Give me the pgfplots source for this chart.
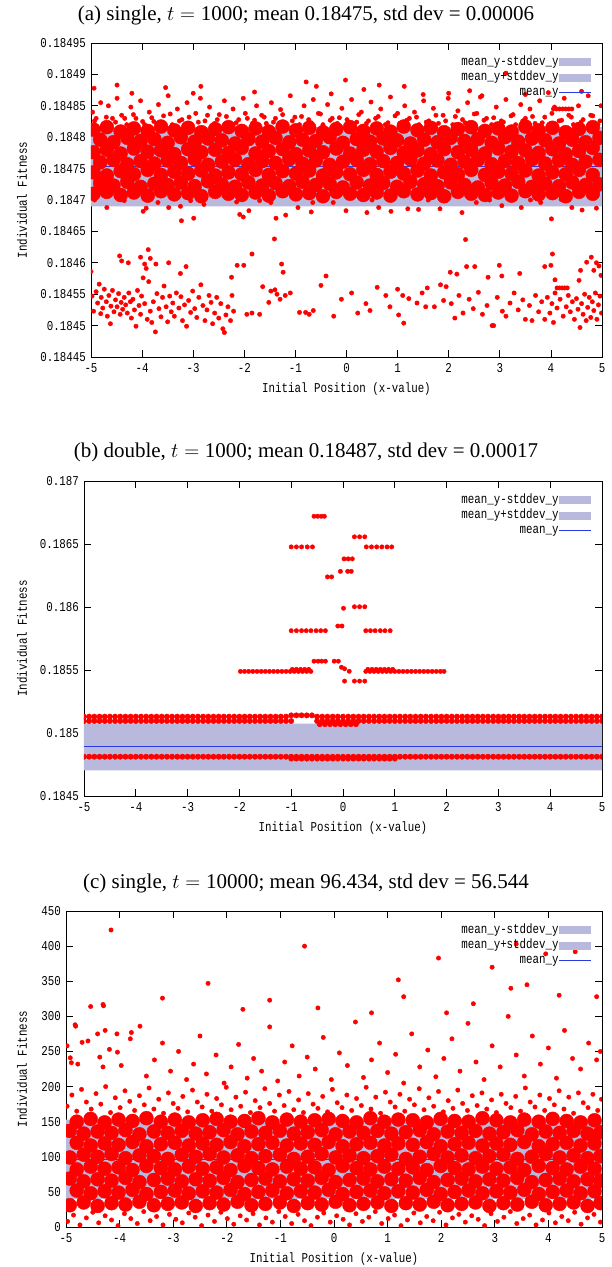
\documentclass[border=0pt]{standalone}
\usepackage{fontspec}
\setmainfont{Liberation Serif}
\newfontfamily\gp[FakeStretch=0.8]{Liberation Mono}
\newcommand\gpf{\gp\fontsize{13.5}{15}\selectfont}
\usepackage{pgfplots}
\usepackage{pgfplotstable}
\pgfplotsset{compat=1.18}
\definecolor{lav}{RGB}{185,185,222}
\definecolor{mblue}{RGB}{40,60,225}

\pgfplotsset{
 gp/.style={scale only axis, xmin=-5, xmax=5, xtick={-5,-4,...,5}, xticklabels={-5,-4,-3,-2,-1,0,1,2,3,4,5},
  axis line style={line width=0.9pt}, tick style={black, line width=0.8pt}, major tick length=7pt,
  tick label style={font=\gpf},
  xticklabel style={anchor=north, inner sep=0pt, yshift=-6pt},
  yticklabel style={anchor=east, inner sep=0pt, xshift=-5pt},
  clip marker paths=true,
  legend plot pos=right, legend cell align=right,
  legend style={draw=none, fill=none, font=\gpf, inner sep=0pt, at={(1,1)}, anchor=north east, xshift=-10pt, yshift=-13pt, row sep=3.3pt, nodes={inner sep=0pt, text height=9pt, text depth=3pt}, /tikz/every even column/.append style={column sep=5pt}},
  xlabel={Initial Position (x-value)}, ylabel={Individual Fitness},
  every axis x label/.style={at={(axis description cs:0.5,0)}, anchor=center, yshift=-32pt, font=\gpf},
 },
 pts/.style={only marks, mark=*, mark size=2.2pt, color=red, mark options={draw=none, fill=red}, forget plot},
 core/.style={pts, mark size=7pt},
 cbig/.style={pts, mark size=7pt},
 bpts/.style={pts, mark size=2.7pt},
 bandA/.style={fill=lav, draw=none, legend image code/.code={\fill[lav] (0pt,-4pt) rectangle (32pt,4pt);}},
 meanL/.style={mblue, line width=1pt, legend image code/.code={\draw[mblue, line width=1.2pt] (0pt,0pt) -- (32pt,0pt);}},
}

\pgfplotstableread{
xa r1 r3 r5 r7 xb r2 r4 r6
-4.95 0.184812 0.184776 0.184744 0.18471 -4.82 0.184796 0.18476 0.184727
-4.69 0.184816 0.18478 0.184739 0.184713 -4.56 0.184792 0.184764 0.184723
-4.42 0.184809 0.184774 0.184746 0.184708 -4.29 0.184799 0.184757 0.184729
-4.16 0.184814 0.184782 0.184741 0.184712 -4.03 0.184794 0.184762 0.184721
-3.89 0.18481 0.184777 0.184748 0.184707 -3.76 0.184797 0.184758 0.184726
-3.63 0.184817 0.184779 0.18474 0.184714 -3.5 0.184791 0.184763 0.184724
-3.37 0.184811 0.184773 0.184745 0.184709 -3.24 0.1848 0.184759 0.184728
-3.1 0.184815 0.184781 0.184742 0.184711 -2.97 0.184793 0.184765 0.184722
-2.84 0.184808 0.184776 0.184747 0.184706 -2.71 0.184798 0.184756 0.18473
-2.57 0.184813 0.18478 0.184739 0.184713 -2.44 0.184795 0.184761 0.184725
-2.31 0.184816 0.184775 0.184744 0.18471 -2.18 0.18479 0.184764 0.184721
-2.05 0.18481 0.184783 0.184741 0.184708 -1.92 0.184797 0.184757 0.184728
-1.78 0.184814 0.184774 0.184748 0.184712 -1.65 0.184793 0.184762 0.184723
-1.52 0.184809 0.184778 0.18474 0.184707 -1.39 0.184799 0.184759 0.184727
-1.25 0.184817 0.184781 0.184746 0.184714 -1.12 0.184792 0.184765 0.184722
-0.99 0.184811 0.184773 0.184742 0.184709 -0.86 0.184796 0.184758 0.184729
-0.73 0.184815 0.184779 0.184747 0.184711 -0.6 0.184794 0.184763 0.184724
-0.46 0.184808 0.184776 0.184739 0.184706 -0.33 0.1848 0.184756 0.184726
-0.2 0.184813 0.184782 0.184744 0.184713 -0.07 0.184791 0.184761 0.18472
0.07 0.184816 0.184774 0.184741 0.18471 0.2 0.184797 0.184764 0.184728
0.33 0.18481 0.18478 0.184748 0.184708 0.46 0.184793 0.184757 0.184723
0.59 0.184814 0.184777 0.18474 0.184712 0.72 0.184798 0.184762 0.184727
0.86 0.184809 0.184783 0.184745 0.184707 0.99 0.184795 0.184759 0.184721
1.12 0.184817 0.184775 0.184742 0.184714 1.25 0.18479 0.184765 0.184729
1.39 0.184811 0.184779 0.184747 0.184709 1.52 0.184796 0.184758 0.184725
1.65 0.184815 0.184773 0.184739 0.184711 1.78 0.184792 0.184763 0.184722
1.91 0.184808 0.184781 0.184744 0.184706 2.04 0.184799 0.184756 0.184728
2.18 0.184813 0.184776 0.184741 0.184713 2.31 0.184794 0.184761 0.184724
2.44 0.184816 0.18478 0.184748 0.18471 2.57 0.184797 0.184764 0.18472
2.71 0.18481 0.184774 0.18474 0.184708 2.84 0.184791 0.184757 0.184727
2.97 0.184814 0.184782 0.184745 0.184712 3.1 0.1848 0.184762 0.184723
3.23 0.184809 0.184777 0.184742 0.184707 3.36 0.184793 0.184759 0.184729
3.5 0.184817 0.184779 0.184747 0.184714 3.63 0.184798 0.184765 0.184721
3.76 0.184811 0.184775 0.184739 0.184709 3.89 0.184795 0.184758 0.184726
4.03 0.184815 0.184781 0.184744 0.184711 4.16 0.18479 0.184763 0.184722
4.29 0.184808 0.184773 0.184741 0.184706 4.42 0.184796 0.184756 0.184728
4.55 0.184813 0.184778 0.184748 0.184713 4.68 0.184792 0.184761 0.184724
4.82 0.184816 0.184783 0.18474 0.18471 4.95 0.184799 0.184764 0.184725
}\tabAcore

\pgfplotstableread{
xa r1 r3 r5 r7 xb r2 r4 r6 r8
-4.93 31 69 99 137 -4.8 52 82 120 150
-4.67 35 65 103 133 -4.54 48 86 116 154
-4.41 30 68 100 136 -4.28 51 83 119 149
-4.15 34 66 104 134 -4.02 49 85 117 153
-3.89 32 70 98 138 -3.76 53 81 121 151
-3.63 36 64 102 132 -3.5 47 87 115 155
-3.36 31 67 101 136 -3.23 50 84 118 150
-3.1 33 69 97 134 -2.97 52 82 120 153
-2.84 35 65 103 137 -2.71 48 86 116 149
-2.58 30 68 100 133 -2.45 51 83 119 152
-2.32 34 66 104 135 -2.19 49 85 117 154
-2.06 32 70 99 138 -1.93 53 81 121 150
-1.8 36 64 102 132 -1.67 47 87 115 151
-1.54 31 67 98 136 -1.41 50 84 118 155
-1.28 33 69 101 134 -1.15 52 82 120 149
-1.01 35 65 103 137 -0.88 48 86 116 153
-0.75 30 68 97 133 -0.62 51 83 119 150
-0.49 34 66 100 135 -0.36 49 85 117 152
-0.23 32 70 104 138 -0.1 53 81 121 154
0.03 36 64 99 132 0.16 47 87 115 151
0.29 31 67 102 136 0.42 50 84 118 149
0.55 33 69 98 134 0.68 52 82 120 155
0.81 35 65 101 137 0.94 48 86 116 150
1.07 30 68 103 133 1.2 51 83 119 153
1.34 34 66 97 135 1.47 49 85 117 152
1.6 32 70 100 138 1.73 53 81 121 149
1.86 36 64 104 132 1.99 47 87 115 154
2.12 31 67 99 136 2.25 50 84 118 151
2.38 33 69 102 134 2.51 52 82 120 150
2.64 35 65 98 137 2.77 48 86 116 155
2.9 30 68 101 133 3.03 51 83 119 152
3.16 34 66 103 135 3.29 49 85 117 149
3.42 32 70 97 138 3.55 53 81 121 153
3.69 36 64 100 132 3.82 47 87 115 150
3.95 31 67 104 136 4.08 50 84 118 154
4.21 33 69 99 134 4.34 52 82 120 151
4.47 35 65 102 137 4.6 48 86 116 149
4.73 30 68 98 133 4.86 51 83 119 152
4.97 34 66 101 135 nan nan nan nan nan
}\tabCcore

\pgfplotstableread{
x u1 u2 lo
-5 0.18513 0.185095 0.184812
-4.9 0.18513 0.185095 0.184812
-4.8 0.18513 0.185095 0.184812
-4.7 0.18513 0.185095 0.184812
-4.6 0.18513 0.185095 0.184812
-4.5 0.18513 0.185095 0.184812
-4.4 0.18513 0.185095 0.184812
-4.3 0.18513 0.185095 0.184812
-4.2 0.18513 0.185095 0.184812
-4.1 0.18513 0.185095 0.184812
-4 0.18513 0.185095 0.184812
-3.9 0.18513 0.185095 0.184812
-3.8 0.18513 0.185095 0.184812
-3.7 0.18513 0.185095 0.184812
-3.6 0.18513 0.185095 0.184812
-3.5 0.18513 0.185095 0.184812
-3.4 0.18513 0.185095 0.184812
-3.3 0.18513 0.185095 0.184812
-3.2 0.18513 0.185095 0.184812
-3.1 0.18513 0.185095 0.184812
-3 0.18513 0.185095 0.184812
-2.9 0.18513 0.185095 0.184812
-2.8 0.18513 0.185095 0.184812
-2.7 0.18513 0.185095 0.184812
-2.6 0.18513 0.185095 0.184812
-2.5 0.18513 0.185095 0.184812
-2.4 0.18513 0.185095 0.184812
-2.3 0.18513 0.185095 0.184812
-2.2 0.18513 0.185095 0.184812
-2.1 0.18513 0.185095 0.184812
-2 0.18513 0.185095 0.184812
-1.9 0.18513 0.185095 0.184812
-1.8 0.18513 0.185095 0.184812
-1.7 0.18513 0.185095 0.184812
-1.6 0.18513 0.185095 0.184812
-1.5 0.18513 0.185095 0.184812
-1.4 0.18513 0.185095 0.184812
-1.3 0.18513 0.185095 0.184812
-1.2 0.18513 0.185095 0.184812
-1.1 0.18513 0.185095 0.184812
-1 0.18514 0.185095 0.184812
-0.9 0.18514 nan 0.184812
-0.8 0.18514 nan 0.184812
-0.7 0.18514 nan 0.184812
-0.6 0.18514 nan 0.184812
-0.5 0.18513 0.185095 0.184812
-0.4 0.18513 0.185095 0.184812
-0.3 0.18513 0.185095 0.184812
-0.2 0.18513 0.185095 0.184812
-0.1 0.18513 0.185095 0.184812
0 0.18513 0.185095 0.184812
0.1 0.18513 0.185095 0.184812
0.2 0.18513 0.185095 0.184812
0.3 0.18513 0.185095 0.184812
0.4 0.18513 0.185095 0.184812
0.5 0.18513 0.185095 0.184812
0.6 0.18513 0.185095 0.184812
0.7 0.18513 0.185095 0.184812
0.8 0.18513 0.185095 0.184812
0.9 0.18513 0.185095 0.184812
1 0.18513 0.185095 0.184812
1.1 0.18513 0.185095 0.184812
1.2 0.18513 0.185095 0.184812
1.3 0.18513 0.185095 0.184812
1.4 0.18513 0.185095 0.184812
1.5 0.18513 0.185095 0.184812
1.6 0.18513 0.185095 0.184812
1.7 0.18513 0.185095 0.184812
1.8 0.18513 0.185095 0.184812
1.9 0.18513 0.185095 0.184812
2 0.18513 0.185095 0.184812
2.1 0.18513 0.185095 0.184812
2.2 0.18513 0.185095 0.184812
2.3 0.18513 0.185095 0.184812
2.4 0.18513 0.185095 0.184812
2.5 0.18513 0.185095 0.184812
2.6 0.18513 0.185095 0.184812
2.7 0.18513 0.185095 0.184812
2.8 0.18513 0.185095 0.184812
2.9 0.18513 0.185095 0.184812
3 0.18513 0.185095 0.184812
3.1 0.18513 0.185095 0.184812
3.2 0.18513 0.185095 0.184812
3.3 0.18513 0.185095 0.184812
3.4 0.18513 0.185095 0.184812
3.5 0.18513 0.185095 0.184812
3.6 0.18513 0.185095 0.184812
3.7 0.18513 0.185095 0.184812
3.8 0.18513 0.185095 0.184812
3.9 0.18513 0.185095 0.184812
4 0.18513 0.185095 0.184812
4.1 0.18513 0.185095 0.184812
4.2 0.18513 0.185095 0.184812
4.3 0.18513 0.185095 0.184812
4.4 0.18513 0.185095 0.184812
4.5 0.18513 0.185095 0.184812
4.6 0.18513 0.185095 0.184812
4.7 0.18513 0.185095 0.184812
4.8 0.18513 0.185095 0.184812
4.9 0.18513 0.185095 0.184812
5 0.18513 0.185095 0.184812
}\tabB

\begin{document}
\begin{tikzpicture}
\useasboundingbox (0,0) rectangle (611pt,-1267pt);

% ---------------- (a) ----------------
\begin{axis}[gp, at={(91pt,-357pt)}, anchor=south west, width=511pt, height=314pt,
  ymin=0.18445, ymax=0.18495,
  ytick={0.18445,0.1845,0.18455,0.1846,0.18465,0.1847,0.18475,0.1848,0.18485,0.1849,0.18495},
  yticklabels={0.18445,0.1845,0.18455,0.1846,0.18465,0.1847,0.18475,0.1848,0.18485,0.1849,0.18495},
  every axis y label/.style={at={(axis description cs:-0.135,0.5)}, rotate=90, anchor=center, font=\gpf}]
\addplot[bandA] coordinates {(-5,0.18469) (5,0.18469) (5,0.184753) (-5,0.184753) (-5,0.18469)};
\addlegendentry{mean\_y-stddev\_y}
\addplot[bandA] coordinates {(-5,0.184753) (5,0.184753) (5,0.184816) (-5,0.184816) (-5,0.184753)};
\addlegendentry{mean\_y+stddev\_y}
\addplot[meanL] coordinates {(-5,0.184753) (5,0.184753)};
\addlegendentry{mean\_y}
\addplot[core] table[x=xa,y=r1]{\tabAcore};
\addplot[core] table[x=xa,y=r3]{\tabAcore};
\addplot[core] table[x=xa,y=r5]{\tabAcore};
\addplot[core] table[x=xa,y=r7]{\tabAcore};
\addplot[core] table[x=xb,y=r2]{\tabAcore};
\addplot[core] table[x=xb,y=r4]{\tabAcore};
\addplot[core] table[x=xb,y=r6]{\tabAcore};
% fringe above the dense band
\addplot[pts] coordinates {(-4.97,0.18484) (-4.9,0.18483) (-4.81,0.184855) (-4.74,0.18482) (-4.66,0.18485) (-4.58,0.18483) (-4.49,0.184862) (-4.4,0.184835) (-4.3,0.18482) (-4.22,0.184848) (-4.12,0.18483) (-4.03,0.184858) (-3.95,0.18482) (-3.86,0.18484) (-3.77,0.184825) (-3.68,0.184852) (-3.58,0.184834) (-3.49,0.184866) (-3.41,0.18482) (-3.31,0.184845) (-3.22,0.184828) (-3.12,0.184855) (-3.03,0.18482) (-2.95,0.184838) (-2.86,0.184862) (-2.77,0.184826) (-2.68,0.184848) (-2.58,0.184822) (-2.49,0.184836) (-2.39,0.184858) (-2.3,0.18482) (-2.22,0.184845) (-2.11,0.184828) (-2.02,0.184862) (-1.94,0.18483) (-1.84,0.184822) (-1.76,0.18485) (-1.66,0.184835) (-1.57,0.184822) (-1.47,0.184855) (-1.39,0.18483) (-1.29,0.184844) (-1.2,0.184822) (-1.1,0.184866) (-1.01,0.184832) (-0.92,0.18482) (-0.83,0.18485) (-0.74,0.184828) (-0.65,0.18486) (-0.55,0.184838) (-0.46,0.18482) (-0.37,0.184852) (-0.28,0.18483) (-0.18,0.184822) (-0.09,0.184846) (0.01,0.184828) (0.1,0.18486) (0.2,0.184824) (0.29,0.18484) (0.39,0.184822) (0.48,0.184856) (0.57,0.18483) (0.67,0.184845) (0.76,0.18482) (0.86,0.184864) (0.95,0.184834) (1.04,0.184822) (1.14,0.18485) (1.23,0.18483) (1.33,0.18484) (1.42,0.18482) (1.51,0.184858) (1.61,0.184826) (1.7,0.184846) (1.8,0.184822) (1.89,0.184835) (1.99,0.184862) (2.08,0.18482) (2.18,0.184842) (2.27,0.184828) (2.37,0.184855) (2.46,0.184822) (2.55,0.184838) (2.65,0.184866) (2.74,0.18483) (2.84,0.18482) (2.93,0.184848) (3.03,0.184826) (3.12,0.18486) (3.22,0.184834) (3.31,0.18482) (3.41,0.184852) (3.5,0.18483) (3.59,0.184845) (3.69,0.184822) (3.78,0.184858) (3.88,0.184832) (3.97,0.18482) (4.07,0.184848) (4.16,0.184826) (4.26,0.184862) (4.35,0.184835) (4.44,0.18482) (4.54,0.18485) (4.63,0.184828) (4.73,0.184866) (4.82,0.184834) (4.92,0.18482) (4.98,0.18485)
 (-4.93,0.184826) (-4.7,0.184832) (-4.52,0.184824) (-4.34,0.18483) (-4.17,0.184836) (-3.99,0.184825) (-3.81,0.184831) (-3.63,0.184823) (-3.45,0.184837) (-3.27,0.184826) (-3.08,0.184832) (-2.9,0.184824) (-2.72,0.184835) (-2.53,0.184828) (-2.35,0.184833) (-2.16,0.184823) (-1.98,0.184838) (-1.8,0.184827) (-1.61,0.184832) (-1.43,0.184824) (-1.25,0.184836) (-1.06,0.184826) (-0.88,0.184833) (-0.69,0.184823) (-0.51,0.184837) (-0.32,0.184827) (-0.14,0.184831) (0.05,0.184824) (0.24,0.184836) (0.43,0.184826) (0.62,0.184833) (0.81,0.184823) (1.0,0.184838) (1.18,0.184827) (1.37,0.184832) (1.56,0.184824) (1.75,0.184835) (1.94,0.184826) (2.13,0.184833) (2.32,0.184823) (2.5,0.184837) (2.69,0.184827) (2.88,0.184831) (3.07,0.184824) (3.26,0.184836) (3.45,0.184826) (3.64,0.184833) (3.83,0.184823) (4.02,0.184838) (4.21,0.184827) (4.4,0.184832) (4.59,0.184824) (4.78,0.184835) (4.96,0.184826)
 (-4.94,0.184878) (-4.49,0.184883) (-3.54,0.184879) (-2.85,0.184881) (-0.79,0.184888) (-0.59,0.184881) (-0.02,0.184891) (0.64,0.184883) (1.13,0.184881) (2.41,0.184874) (3.12,0.184902) (3.95,0.184871) (0.34,0.184876) (2.62,0.184864)
 (-4.2,0.18487) (-3.0,0.18487) (-1.8,0.184872) (1.5,0.184868) (2.0,0.18487) (4.6,0.184873) (-0.3,0.184869) (3.5,0.184868)
 (4.05,0.184845) (4.11,0.184845) (4.17,0.184845) (4.23,0.184845) (4.29,0.184845) (4.35,0.184845) (4.41,0.184845)};
% fringe below the dense band
\addplot[pts] coordinates {(-4.69,0.184688) (-3.98,0.184682) (-3.92,0.184687) (-3.69,0.184696) (-3.48,0.184688) (-3.25,0.18469) (-3.23,0.184667) (-2.99,0.184671) (-2.79,0.184693) (-2.15,0.184697) (-2.09,0.184677) (-2.02,0.184673) (-1.91,0.184683) (-1.48,0.184696) (-1.38,0.184671) (-1.19,0.184676) (-0.95,0.184688) (-0.69,0.184681) (-0.66,0.184696) (-0.26,0.184696) (-0.01,0.184683) (0.4,0.18468) (0.63,0.184688) (0.87,0.184682) (1.2,0.184686) (1.41,0.184685) (1.83,0.184686) (2.26,0.18468) (2.54,0.184696) (3.04,0.184691) (3.42,0.184688) (3.8,0.184696) (4.01,0.18467) (4.41,0.184688) (4.61,0.184684) (4.89,0.184687)
 (-4.93,0.1847) (-4.35,0.184699) (-3.05,0.184699) (-1.7,0.184699) (-0.45,0.184701) (0.5,0.1847) (1.6,0.1847) (2.8,0.1847) (3.6,0.1847) (4.2,0.184701)};
% lower cluster
\addplot[pts] coordinates {(-1.41,0.184638) (2.33,0.184637) (-5.0,0.184586) (-4.44,0.184611) (-4.4,0.184603) (-4.27,0.1846) (-4.03,0.184609) (-3.88,0.184621) (-3.84,0.184607) (-3.95,0.184598) (-3.92,0.184591) (-3.73,0.184598) (-3.48,0.1846) (-3.14,0.184594) (-3.25,0.184583) (-1.85,0.184614) (-2.14,0.184596) (-2.01,0.184596) (-2.25,0.184577) (-1.27,0.184598) (-1.24,0.184585) (-1.64,0.184562) (-0.4,0.184579) (2.03,0.184585) (2.16,0.184582) (2.35,0.184594) (2.51,0.184594) (2.77,0.184577) (2.99,0.184596) (3.04,0.184579) (3.39,0.184583) (3.88,0.184594) (4.0,0.184596) (4.03,0.184614) (4.08,0.184573) (4.58,0.184588) (4.7,0.184601) (4.79,0.184609) (4.89,0.1846) (4.94,0.184595) (4.98,0.18458) (4.84,0.184588) (4.55,0.184572)
 (-4.98,0.184547) (-4.95,0.184523) (-4.9,0.184554) (-4.87,0.184536) (-4.84,0.184566) (-4.81,0.184519) (-4.8,0.184545) (-4.77,0.184528) (-4.74,0.184558) (-4.7,0.184538) (-4.68,0.184515) (-4.65,0.184548) (-4.62,0.184503) (-4.61,0.184531) (-4.58,0.184556) (-4.55,0.184522) (-4.52,0.184541) (-4.49,0.18453) (-4.46,0.184551) (-4.43,0.184518) (-4.41,0.184537) (-4.38,0.184526) (-4.35,0.184545) (-4.32,0.184533) (-4.29,0.18452) (-4.26,0.184552) (-4.23,0.184538) (-4.21,0.184512) (-4.18,0.184542) (-4.15,0.184525) (-4.12,0.184499) (-4.09,0.184556) (-4.06,0.184532) (-4.03,0.184518) (-4.01,0.184547) (-3.98,0.184576) (-3.95,0.184535) (-3.9,0.18451) (-3.87,0.18457) (-3.84,0.184523) (-3.81,0.184505) (-3.78,0.184538) (-3.74,0.18449) (-3.71,0.184551) (-3.67,0.184527) (-3.63,0.184514) (-3.6,0.184545) (-3.57,0.184563) (-3.53,0.18453) (-3.5,0.184506) (-3.46,0.184547) (-3.43,0.184522) (-3.4,0.184536) (-3.37,0.184515) (-3.33,0.184552) (-3.28,0.184528) (-3.24,0.184546) (-3.21,0.184508) (-3.17,0.184533) (-3.13,0.184499) (-3.09,0.18454) (-3.05,0.184521) (-3.01,0.184555) (-2.97,0.184527) (-2.93,0.184513) (-2.89,0.184545) (-2.85,0.184565) (-2.81,0.184532) (-2.77,0.184508) (-2.73,0.184525) (-2.69,0.184548) (-2.65,0.184537) (-2.62,0.184503) (-2.58,0.18452) (-2.54,0.184545) (-2.5,0.184512) (-2.46,0.184535) (-2.42,0.184495) (-2.39,0.184489) (-2.36,0.184517) (-2.32,0.18453) (-2.27,0.184508) (-2.24,0.184548) (-2.21,0.184523)
 (-1.95,0.184518) (-1.85,0.18452) (-1.7,0.184518) (-1.52,0.184537) (-1.48,0.184555) (-1.4,0.184557) (-1.36,0.18455) (-1.3,0.184542) (-1.2,0.184548) (-1.1,0.184552) (-0.92,0.184521) (-0.8,0.184521) (-0.73,0.184518) (-0.65,0.184524) (-0.5,0.184564) (-0.25,0.184515) (-0.1,0.184542) (0.1,0.184552) (0.22,0.18452) (0.38,0.184535) (0.46,0.184524) (0.6,0.184561) (0.77,0.184548) (0.85,0.18453) (1.0,0.184558) (1.02,0.184517) (1.12,0.184504) (1.1,0.184548) (1.22,0.184543) (1.38,0.184536) (1.48,0.184552) (1.55,0.18453) (1.58,0.18456) (1.72,0.18453) (1.84,0.184565) (1.9,0.18454) (1.95,0.184562)
 (2.05,0.184535) (2.12,0.184512) (2.2,0.184548) (2.28,0.18452) (2.4,0.184542) (2.48,0.184527) (2.58,0.184553) (2.66,0.184518) (2.75,0.184532) (2.85,0.1845) (2.88,0.1845) (2.95,0.184545) (3.05,0.184523) (3.12,0.184515) (3.2,0.184536) (3.28,0.184552) (3.36,0.184525) (3.45,0.184541) (3.5,0.18451)
 (3.58,0.184532) (3.63,0.184508) (3.7,0.184548) (3.76,0.184522) (3.82,0.184538) (3.88,0.18451) (3.93,0.184545) (3.98,0.18452) (4.02,0.184535) (4.05,0.184505) (4.08,0.184552) (4.12,0.184528) (4.18,0.184542) (4.24,0.184515) (4.3,0.18453) (4.34,0.184548) (4.38,0.184522) (4.42,0.184538) (4.46,0.18451) (4.5,0.184543) (4.53,0.184526) (4.57,0.184497) (4.6,0.184535) (4.63,0.184518) (4.66,0.18455) (4.69,0.184508) (4.72,0.184529) (4.75,0.184545) (4.78,0.184513) (4.81,0.184538) (4.84,0.184524) (4.87,0.184552) (4.9,0.18451) (4.93,0.184533) (4.96,0.184547) (4.99,0.18452)
 (4.12,0.18456) (4.17,0.18456) (4.22,0.18456) (4.27,0.18456) (4.32,0.18456)};
\end{axis}

% ---------------- (b) ----------------
\begin{axis}[gp, at={(84pt,-796pt)}, anchor=south west, width=518pt, height=315pt,
  ymin=0.1845, ymax=0.187,
  ytick={0.1845,0.185,0.1855,0.186,0.1865,0.187},
  yticklabels={0.1845,0.185,0.1855,0.186,0.1865,0.187},
  every axis y label/.style={at={(axis description cs:-0.1197,0.5)}, rotate=90, anchor=center, font=\gpf}]
\addplot[bandA] coordinates {(-5,0.184703) (5,0.184703) (5,0.184889) (-5,0.184889) (-5,0.184703)};
\addlegendentry{mean\_y-stddev\_y}
\addplot[bandA] coordinates {(-5,0.184889) (5,0.184889) (5,0.185075) (-5,0.185075) (-5,0.184889)};
\addlegendentry{mean\_y+stddev\_y}
\addplot[meanL] coordinates {(-5,0.184889) (5,0.184889)};
\addlegendentry{mean\_y}
\addplot[bpts] table[x=x,y=u1]{\tabB};
\addplot[bpts] table[x=x,y=u2]{\tabB};
\addplot[bpts] table[x=x,y=lo]{\tabB};
\addplot[bpts] coordinates {(-1,0.184797) (-0.9,0.184797) (-0.8,0.184797) (-0.7,0.184797) (-0.6,0.184797) (-0.5,0.184797) (-0.4,0.184797) (-0.3,0.184797) (-0.2,0.184797) (-0.1,0.184797) (0,0.184797) (0.1,0.184797) (0.2,0.184797) (0.3,0.184797) (0.4,0.184797) (0.5,0.184797) (0.6,0.184797) (0.7,0.184797) (0.8,0.184797) (0.9,0.184797) (1,0.184797)
 (-0.45,0.18507) (-0.35,0.18507) (-0.25,0.18507) (-0.15,0.18507) (-0.05,0.18507) (0.05,0.18507) (0.15,0.18507) (0.25,0.18507)};
\addplot[pts] coordinates {(-1.98,0.185489) (-1.9,0.185489) (-1.82,0.185489) (-1.74,0.185489) (-1.66,0.185489) (-1.58,0.185489) (-1.5,0.185489) (-1.42,0.185489) (-1.34,0.185489) (-1.26,0.185489) (-1.18,0.185489) (-1.1,0.185489) (-1.02,0.185489) (-0.94,0.185489) (-0.86,0.185489) (-0.78,0.185489) (-0.7,0.185489) (-0.62,0.185489)
 (0.44,0.185489) (0.52,0.185489) (0.6,0.185489) (0.68,0.185489) (0.76,0.185489) (0.84,0.185489) (0.92,0.185489) (1.0,0.185489) (1.08,0.185489) (1.16,0.185489) (1.24,0.185489) (1.32,0.185489) (1.4,0.185489) (1.48,0.185489) (1.56,0.185489) (1.64,0.185489) (1.72,0.185489) (1.8,0.185489) (1.88,0.185489) (1.95,0.185489)
 (-0.98,0.185505) (-0.9,0.185505) (-0.82,0.185505) (-0.74,0.185505) (-0.66,0.185505) (0.48,0.185505) (0.56,0.185505) (0.64,0.185505) (0.72,0.185505) (0.8,0.185505) (0.88,0.185505) (0.96,0.185505)
 (-0.56,0.18672) (-0.49,0.18672) (-0.42,0.18672) (-0.36,0.18672)
 (0.22,0.186557) (0.32,0.186557) (0.42,0.186557)
 (-1.0,0.186477) (-0.9,0.186477) (-0.8,0.186477) (-0.69,0.186477) (-0.59,0.186477) (0.45,0.186477) (0.55,0.186477) (0.65,0.186477) (0.75,0.186477) (0.85,0.186477) (0.94,0.186477)
 (0.02,0.186382) (0.1,0.186382) (0.18,0.186382)
 (-0.05,0.186283) (0.09,0.186283) (0.16,0.186283)
 (-0.3,0.186239) (-0.22,0.186239)
 (0.22,0.186002) (0.32,0.186002) (0.42,0.186002) (0.01,0.18599)
 (-0.1,0.185849) (-0.02,0.185849)
 (-1.0,0.185812) (-0.9,0.185812) (-0.8,0.185812) (-0.71,0.185812) (-0.62,0.185812) (-0.52,0.185812) (-0.43,0.185812) (-0.34,0.185812) (0.44,0.185812) (0.53,0.185812) (0.62,0.185812) (0.72,0.185812) (0.81,0.185812) (0.91,0.185812)
 (-0.56,0.18557) (-0.48,0.18557) (-0.41,0.18557) (-0.34,0.18557) (-0.17,0.18557) (-0.09,0.18557)
 (-0.03,0.185522) (0.03,0.18551) (0.12,0.18549)
 (0.03,0.185412) (0.22,0.185412) (0.32,0.185412) (0.42,0.185412)};
\end{axis}

% ---------------- (c) ----------------
\begin{axis}[gp, at={(66pt,-1227pt)}, anchor=south west, width=536pt, height=316pt,
  ymin=0, ymax=450,
  ytick={0,50,100,150,200,250,300,350,400,450},
  yticklabels={0,50,100,150,200,250,300,350,400,450},
  every axis y label/.style={at={(axis description cs:-0.0821,0.5)}, rotate=90, anchor=center, font=\gpf}]
\addplot[bandA] coordinates {(-5,39.89) (5,39.89) (5,96.434) (-5,96.434) (-5,39.89)};
\addlegendentry{mean\_y-stddev\_y}
\addplot[bandA] coordinates {(-5,96.434) (5,96.434) (5,152.98) (-5,152.98) (-5,96.434)};
\addlegendentry{mean\_y+stddev\_y}
\addplot[meanL] coordinates {(-5,96.434) (5,96.434)};
\addlegendentry{mean\_y}
\addplot[cbig] table[x=xa,y=r1]{\tabCcore};
\addplot[cbig] table[x=xa,y=r3]{\tabCcore};
\addplot[cbig] table[x=xa,y=r5]{\tabCcore};
\addplot[cbig] table[x=xa,y=r7]{\tabCcore};
\addplot[cbig] table[x=xb,y=r2]{\tabCcore};
\addplot[cbig] table[x=xb,y=r4]{\tabCcore};
\addplot[cbig] table[x=xb,y=r6]{\tabCcore};
\addplot[cbig] table[x=xb,y=r8]{\tabCcore};
\addplot[pts] coordinates {(-4.97,8) (-4.86,17) (-4.74,3) (-4.62,13) (-4.5,21) (-4.39,6) (-4.27,16) (-4.15,10) (-4.03,2) (-3.91,19) (-3.79,12) (-3.67,5) (-3.55,22) (-3.43,9) (-3.31,15) (-3.19,3) (-3.07,18) (-2.95,11) (-2.83,6) (-2.71,20) (-2.59,14) (-2.47,2) (-2.35,17) (-2.23,8) (-2.11,21) (-1.99,12) (-1.87,4) (-1.75,16) (-1.63,10) (-1.51,19) (-1.39,3) (-1.27,13) (-1.15,7) (-1.03,22) (-0.91,15) (-0.79,5) (-0.67,18) (-0.55,9) (-0.43,2) (-0.31,14) (-0.19,20) (-0.07,7) (0.05,16) (0.17,11) (0.29,3) (0.41,19) (0.53,8) (0.65,14) (0.77,22) (0.89,5) (1.01,12) (1.13,17) (1.25,2) (1.37,10) (1.49,20) (1.61,6) (1.73,15) (1.85,9) (1.97,21) (2.09,3) (2.21,13) (2.33,18) (2.45,7) (2.57,16) (2.69,11) (2.81,2) (2.93,19) (3.05,8) (3.17,14) (3.29,22) (3.41,5) (3.53,12) (3.65,17) (3.77,3) (3.89,10) (4.01,20) (4.13,6) (4.25,15) (4.37,9) (4.49,21) (4.61,4) (4.73,13) (4.85,18) (4.97,7)};
\addplot[pts] coordinates {(-4.98,172) (-4.89,188) (-4.8,165) (-4.71,196) (-4.62,178) (-4.53,168) (-4.44,190) (-4.35,175) (-4.26,200) (-4.17,163) (-4.08,184) (-3.99,170) (-3.9,194) (-3.81,179) (-3.72,166) (-3.63,187) (-3.54,174) (-3.45,198) (-3.36,168) (-3.27,182) (-3.18,162) (-3.09,191) (-3.0,176) (-2.91,169) (-2.82,186) (-2.73,164) (-2.64,195) (-2.55,178) (-2.46,171) (-2.37,189) (-2.28,165) (-2.19,183) (-2.1,174) (-2.01,199) (-1.92,167) (-1.83,185) (-1.74,172) (-1.65,192) (-1.56,163) (-1.47,180) (-1.38,170) (-1.29,197) (-1.2,176) (-1.11,165) (-1.02,188) (-0.93,173) (-0.84,193) (-0.75,167) (-0.66,181) (-0.57,163) (-0.48,190) (-0.39,175) (-0.3,169) (-0.21,186) (-0.12,164) (-0.03,196) (0.06,177) (0.15,170) (0.24,188) (0.33,166) (0.42,183) (0.51,173) (0.6,199) (0.69,168) (0.78,185) (0.87,162) (0.96,192) (1.05,178) (1.14,171) (1.23,189) (1.32,165) (1.41,182) (1.5,174) (1.59,197) (1.68,167) (1.77,184) (1.86,172) (1.95,193) (2.04,164) (2.13,180) (2.22,169) (2.31,195) (2.4,176) (2.49,166) (2.58,187) (2.67,173) (2.76,191) (2.85,168) (2.94,181) (3.03,163) (3.12,189) (3.21,176) (3.3,170) (3.39,186) (3.48,165) (3.57,198) (3.66,178) (3.75,171) (3.84,188) (3.93,166) (4.02,183) (4.11,174) (4.2,194) (4.29,168) (4.38,185) (4.47,162) (4.56,191) (4.65,177) (4.74,170) (4.83,189) (4.92,166) (4.99,182)};
\addplot[pts] coordinates {(-4.98,258) (-4.92,241) (-4.9,234) (-4.83,288) (-4.82,286) (-4.78,232) (-4.7,263) (-4.59,265) (-4.54,314) (-4.41,275) (-4.37,242) (-4.31,228) (-4.27,280) (-4.19,253) (-4.05,275) (-4.04,249) (-3.97,230) (-3.8,268) (-3.78,277) (-3.62,286) (-3.5,215) (-3.35,238) (-3.2,262) (-3.05,222) (-2.9,250) (-2.75,210) (-2.62,232) (-2.5,272) (-2.38,218) (-2.2,245) (-2.05,205) (-1.92,228) (-1.78,260) (-1.62,212) (-1.5,240) (-1.35,222) (-1.2,285) (-1.05,208) (-0.92,235) (-0.78,258) (-0.65,215) (-0.5,242) (-0.35,225) (-0.2,270) (-0.05,210) (0.1,248) (0.25,230) (0.4,292) (0.55,213) (0.7,238) (0.85,262) (1.0,220) (1.15,246) (1.3,205) (1.45,275) (1.6,228) (1.75,252) (1.9,214) (2.05,240) (2.2,268) (2.35,222) (2.5,290) (2.65,235) (2.8,210) (2.95,258) (3.1,228) (3.25,300) (3.4,245) (3.55,215) (3.7,272) (3.85,232) (4.0,255) (4.15,212) (4.3,280) (4.45,240) (4.6,225) (4.75,262) (4.9,238) (4.97,250)
 (-4.16,423) (-4.31,317) (-4.3,315) (-2.35,347) (-3.2,326) (-1.2,323) (-0.55,400) (-0.3,312) (0.7,305) (1.2,352) (1.3,328) (1.95,383) (2.6,318) (2.95,370) (3.3,340) (3.4,403) (3.6,345) (3.95,389) (4.2,330) (4.5,392) (4.9,328) (2.1,305) (-1.7,310)};
\end{axis}

\node[font=\fontsize{21}{24}\selectfont] at (306pt,-15pt) {(a) single, $t={}$1000; mean 0.18475, std dev = 0.00006};
\node[font=\fontsize{21}{24}\selectfont] at (306pt,-452pt) {(b) double, $t={}$1000; mean 0.18487, std dev = 0.00017};
\node[font=\fontsize{21}{24}\selectfont] at (306pt,-883pt) {(c) single, $t={}$10000; mean 96.434, std dev = 56.544};
\end{tikzpicture}
\end{document}
